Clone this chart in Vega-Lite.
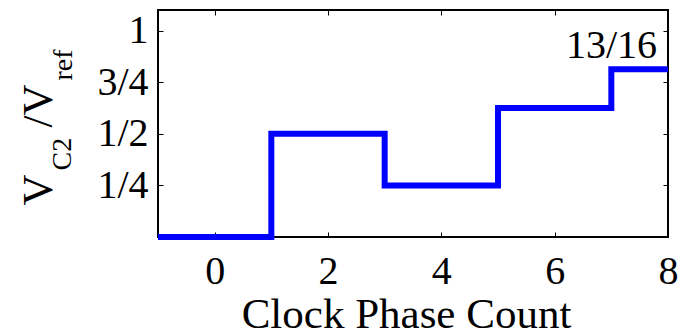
{
  "$schema": "https://vega.github.io/schema/vega-lite/v6.json",
  "width": 510,
  "height": 227,
  "autosize": {"type": "none"},
  "padding": {"left": 158, "top": 10, "right": 20, "bottom": 99},
  "background": "white",
  "config": {
    "font": "Liberation Serif",
    "view": {"stroke": "black", "strokeWidth": 2},
    "axis": {
      "domain": false,
      "grid": false,
      "tickColor": "black",
      "tickSize": -5,
      "tickWidth": 1,
      "labelColor": "black",
      "labelFontSize": 40,
      "labelFont": "Liberation Serif",
      "labelFlush": false,
      "labelOverlap": false,
      "titleColor": "black",
      "titleFont": "Liberation Serif",
      "titleFontWeight": "normal",
      "titleLimit": 1000
    }
  },
  "datasets": {
    "steps": [
      {"phase": -1, "v": 0},
      {"phase": 1, "v": 0.5},
      {"phase": 3, "v": 0.25},
      {"phase": 5, "v": 0.625},
      {"phase": 7, "v": 0.8125},
      {"phase": 8, "v": 0.8125}
    ],
    "note": [
      {"phase": 8, "v": 0.8125, "label": "13/16"}
    ]
  },
  "data": {"name": "steps"},
  "layer": [
    {
      "mark": {"type": "line", "interpolate": "step-after", "color": "#0000FF", "strokeWidth": 6, "strokeJoin": "miter", "strokeCap": "butt", "clip": false},
      "encoding": {
        "x": {
          "field": "phase", "type": "quantitative",
          "scale": {"domain": [-1, 8], "nice": false, "zero": false},
          "axis": {
            "orient": "bottom",
            "values": [0, 2, 4, 6, 8],
            "labelPadding": 19,
            "title": "Clock Phase Count",
            "titleFontSize": 43,
            "titleAlign": "center",
            "titleBaseline": "alphabetic",
            "titleAngle": 0,
            "titleX": 248,
            "titleY": 90
          }
        },
        "y": {
          "field": "v", "type": "quantitative",
          "scale": {"domain": [0, 1.1], "nice": false, "zero": false},
          "axis": {
            "orient": "left",
            "values": [0.25, 0.5, 0.75, 1],
            "labelExpr": "datum.value == 0.25 ? '1/4' : datum.value == 0.5 ? '1/2' : datum.value == 0.75 ? '3/4' : '1'",
            "labelPadding": 15,
            "labelBaseline": "middle",
            "title": "V",
            "titleFontSize": 43,
            "titleAngle": 270,
            "titleAlign": "left",
            "titleBaseline": "alphabetic",
            "titleX": -107,
            "titleY": 195
          }
        }
      }
    },
    {
      "mark": {"type": "line", "opacity": 0},
      "encoding": {
        "x": {"field": "phase", "type": "quantitative", "axis": {"orient": "top", "values": [0, 2, 4, 6, 8], "labels": false, "title": null}},
        "y": {"field": "v", "type": "quantitative", "axis": {"orient": "right", "values": [0.25, 0.5, 0.75, 1], "labels": false, "title": null}}
      }
    },
    {
      "mark": {"type": "line", "opacity": 0},
      "encoding": {
        "x": {"field": "phase", "type": "quantitative", "axis": null},
        "y": {"field": "v", "type": "quantitative", "axis": {"orient": "left", "labels": false, "ticks": false, "title": "C2", "titleFontSize": 28, "titleAngle": 270, "titleAlign": "left", "titleBaseline": "alphabetic", "titleX": -88, "titleY": 160}}
      }
    },
    {
      "mark": {"type": "line", "opacity": 0},
      "encoding": {
        "x": {"field": "phase", "type": "quantitative", "axis": null},
        "y": {"field": "v", "type": "quantitative", "axis": {"orient": "left", "labels": false, "ticks": false, "title": "/V", "titleFontSize": 43, "titleAngle": 270, "titleAlign": "left", "titleBaseline": "alphabetic", "titleX": -107, "titleY": 117}}
      }
    },
    {
      "mark": {"type": "line", "opacity": 0},
      "encoding": {
        "x": {"field": "phase", "type": "quantitative", "axis": null},
        "y": {"field": "v", "type": "quantitative", "axis": {"orient": "left", "labels": false, "ticks": false, "title": "ref", "titleFontSize": 28, "titleAngle": 270, "titleAlign": "left", "titleBaseline": "alphabetic", "titleX": -87, "titleY": 70}}
      }
    },
    {
      "data": {"name": "note"},
      "mark": {"type": "text", "font": "Liberation Serif", "fontSize": 40, "align": "right", "baseline": "alphabetic", "dx": -11, "dy": -11, "color": "black"},
      "encoding": {
        "x": {"field": "phase", "type": "quantitative", "axis": null},
        "y": {"field": "v", "type": "quantitative", "axis": null},
        "text": {"field": "label"}
      }
    }
  ],
  "resolve": {"axis": {"x": "independent", "y": "independent"}}
}
